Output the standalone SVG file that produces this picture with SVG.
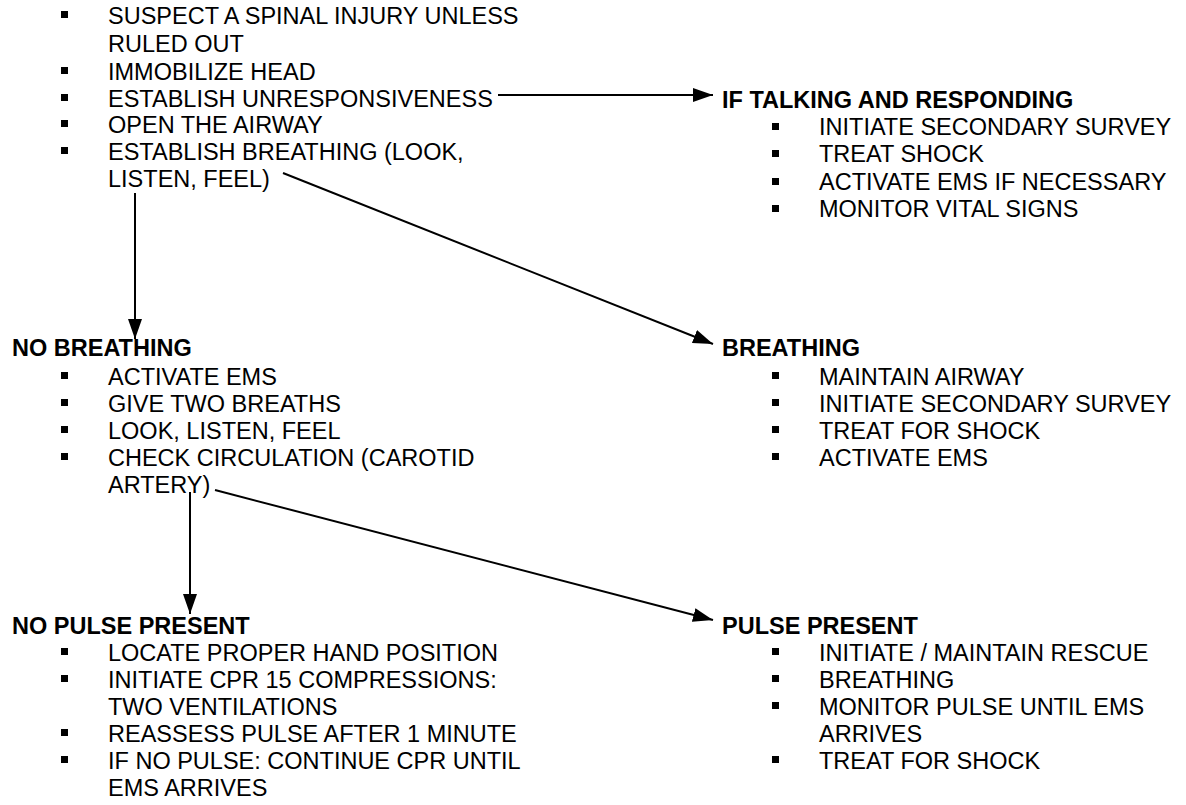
<svg xmlns="http://www.w3.org/2000/svg" width="1186" height="805" viewBox="0 0 1186 805">
<style>
text{font-family:"Liberation Sans",Arial,sans-serif;font-size:23.5px;fill:#000}
.h{font-weight:bold}
.c{stroke:#000;stroke-width:2;fill:none}
</style>
<defs>
<marker id="ah" viewBox="0 0 20 14" refX="20" refY="7" markerWidth="20" markerHeight="14" markerUnits="userSpaceOnUse" orient="auto"><path d="M0,0L20,7L0,14z" fill="#000"/></marker>
<rect id="sq" width="7" height="7" fill="#000"/>
</defs>
<rect width="1186" height="805" fill="#fff"/>
<g id="connectors">
<line class="c" x1="498" y1="95" x2="713" y2="95" marker-end="url(#ah)"/>
<line class="c" x1="283" y1="173" x2="713" y2="344" marker-end="url(#ah)"/>
<line class="c" x1="135" y1="193" x2="135" y2="339" marker-end="url(#ah)"/>
<line class="c" x1="190" y1="492" x2="190" y2="614" marker-end="url(#ah)"/>
<line class="c" x1="215" y1="490" x2="713" y2="620" marker-end="url(#ah)"/>
</g>
<g id="start">
<use href="#sq" x="61" y="11"/><text x="108" y="24">SUSPECT A SPINAL INJURY UNLESS</text>
<text x="108" y="52">RULED OUT</text>
<use href="#sq" x="61" y="67"/><text x="108" y="80">IMMOBILIZE HEAD</text>
<use href="#sq" x="61" y="94"/><text x="108" y="107">ESTABLISH UNRESPONSIVENESS</text>
<use href="#sq" x="61" y="120"/><text x="108" y="133">OPEN THE AIRWAY</text>
<use href="#sq" x="61" y="147"/><text x="108" y="160">ESTABLISH BREATHING (LOOK,</text>
<text x="108" y="187">LISTEN, FEEL)</text>
</g>
<g id="talking">
<text class="h" x="722" y="108">IF TALKING AND RESPONDING</text>
<use href="#sq" x="772" y="123"/><text x="819" y="135">INITIATE SECONDARY SURVEY</text>
<use href="#sq" x="772" y="150"/><text x="819" y="162">TREAT SHOCK</text>
<use href="#sq" x="772" y="178"/><text x="819" y="190">ACTIVATE EMS IF NECESSARY</text>
<use href="#sq" x="772" y="205"/><text x="819" y="217">MONITOR VITAL SIGNS</text>
</g>
<g id="nobreathing">
<text class="h" x="12" y="356">NO BREATHING</text>
<use href="#sq" x="61" y="372"/><text x="108" y="385">ACTIVATE EMS</text>
<use href="#sq" x="61" y="399"/><text x="108" y="412">GIVE TWO BREATHS</text>
<use href="#sq" x="61" y="426"/><text x="108" y="439">LOOK, LISTEN, FEEL</text>
<use href="#sq" x="61" y="453"/><text x="108" y="466">CHECK CIRCULATION (CAROTID</text>
<text x="108" y="493">ARTERY)</text>
</g>
<g id="breathing">
<text class="h" x="722" y="356">BREATHING</text>
<use href="#sq" x="772" y="372"/><text x="819" y="385">MAINTAIN AIRWAY</text>
<use href="#sq" x="772" y="399"/><text x="819" y="412">INITIATE SECONDARY SURVEY</text>
<use href="#sq" x="772" y="426"/><text x="819" y="439">TREAT FOR SHOCK</text>
<use href="#sq" x="772" y="453"/><text x="819" y="466">ACTIVATE EMS</text>
</g>
<g id="nopulse">
<text class="h" x="12" y="634">NO PULSE PRESENT</text>
<use href="#sq" x="61" y="648"/><text x="108" y="661">LOCATE PROPER HAND POSITION</text>
<use href="#sq" x="61" y="675"/><text x="108" y="688">INITIATE CPR 15 COMPRESSIONS:</text>
<text x="108" y="715">TWO VENTILATIONS</text>
<use href="#sq" x="61" y="729"/><text x="108" y="742">REASSESS PULSE AFTER 1 MINUTE</text>
<use href="#sq" x="61" y="756"/><text x="108" y="769">IF NO PULSE: CONTINUE CPR UNTIL</text>
<text x="108" y="796">EMS ARRIVES</text>
</g>
<g id="pulse">
<text class="h" x="722" y="634">PULSE PRESENT</text>
<use href="#sq" x="772" y="648"/><text x="819" y="661">INITIATE / MAINTAIN RESCUE</text>
<use href="#sq" x="772" y="675"/><text x="819" y="688">BREATHING</text>
<use href="#sq" x="772" y="702"/><text x="819" y="715">MONITOR PULSE UNTIL EMS</text>
<text x="819" y="742">ARRIVES</text>
<use href="#sq" x="772" y="756"/><text x="819" y="769">TREAT FOR SHOCK</text>
</g>
</svg>
